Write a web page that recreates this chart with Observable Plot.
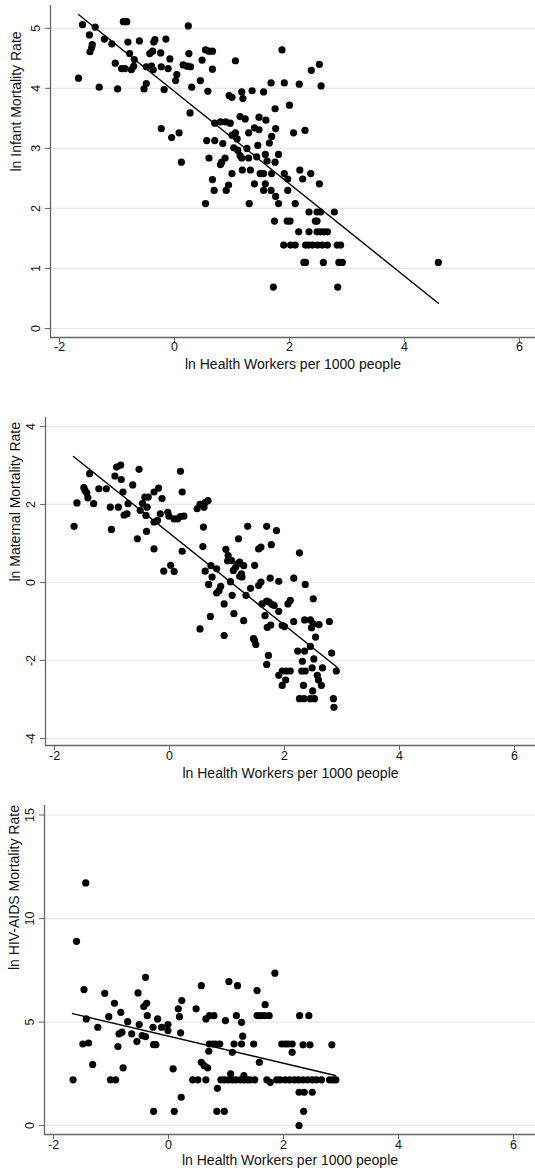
<!DOCTYPE html>
<html><head><meta charset="utf-8">
<script src="https://cdn.jsdelivr.net/npm/d3@7"></script>
<script src="https://cdn.jsdelivr.net/npm/@observablehq/plot@0.6"></script>
<style>
body{margin:0;background:#fff;}
#chart svg{display:block;}
</style></head><body><div id="chart"></div>
<script>
const xLabel = "ln Health Workers per 1000 people";
const xTicks = [-2, 0, 2, 4, 6];

// Panel 1: ln Infant Mortality Rate
const infantTicks = [0, 1, 2, 3, 4, 5];
const infantPoints = [
[-1.60,5.06],[-1.38,5.02],[-1.48,4.89],[-1.43,4.73],[-1.44,4.68],[-1.47,4.61],[-1.22,4.82],[-1.09,4.74],[-0.89,5.11],[-0.83,5.11],
[-0.81,4.77],[-0.61,4.79],[-0.36,4.77],[-0.34,4.81],[-0.15,4.82],[0.24,5.04],[-0.78,4.58],[-0.70,4.48],[-1.03,4.42],[-0.92,4.33],
[-0.86,4.33],[-0.75,4.31],[-0.71,4.37],[-0.43,4.58],[-0.38,4.62],[-0.24,4.59],[-0.08,4.49],[-0.49,4.36],[-0.40,4.37],[-0.37,4.31],
[-0.23,4.36],[-0.11,4.33],[0.04,4.23],[0.02,4.13],[0.15,4.39],[0.22,4.37],[0.28,4.36],[0.25,4.58],[-1.67,4.17],[-1.31,4.02],
[-0.99,3.99],[-0.53,3.99],[-0.49,4.08],[-0.18,3.98],[0.30,4.02],[0.27,3.59],[-0.23,3.33],[-0.05,3.18],[0.08,3.26],[0.12,2.77],
[0.54,4.64],[0.60,4.62],[0.66,4.62],[0.48,4.47],[0.66,4.32],[1.06,4.46],[1.87,4.64],[0.45,4.13],[0.58,3.95],[0.95,3.88],
[1.00,3.85],[1.17,3.94],[1.19,3.83],[1.35,3.96],[1.55,3.94],[1.68,4.09],[1.91,4.09],[2.17,4.07],[2.38,4.30],[2.52,4.40],
[2.55,4.04],[1.75,3.66],[2.00,3.72],[0.70,3.42],[0.80,3.44],[0.89,3.44],[0.97,3.42],[1.14,3.53],[1.23,3.49],[1.47,3.52],
[1.59,3.47],[1.00,3.22],[1.06,3.26],[1.09,3.16],[1.29,3.26],[1.39,3.34],[1.47,3.31],[1.69,3.20],[1.76,3.33],[1.65,3.09],
[2.07,3.26],[2.27,3.30],[0.56,3.13],[0.70,3.13],[0.84,3.08],[1.03,3.01],[1.10,2.97],[1.14,2.88],[1.17,2.84],[1.26,3.00],
[1.29,2.84],[1.45,3.05],[1.43,2.86],[1.58,2.90],[1.61,2.79],[1.75,2.77],[1.81,2.90],[0.60,2.84],[0.80,2.73],[0.82,2.77],
[0.88,2.84],[1.18,2.64],[1.32,2.64],[1.00,2.58],[1.49,2.58],[1.55,2.58],[1.69,2.58],[1.91,2.58],[1.97,2.49],[2.18,2.64],
[2.23,2.49],[2.37,2.58],[2.52,2.41],[0.66,2.48],[0.69,2.30],[0.90,2.30],[0.94,2.39],[1.39,2.41],[1.58,2.41],[1.55,2.30],
[1.68,2.30],[1.76,2.20],[1.97,2.30],
[0.54,2.08],[1.30,2.08],[1.81,2.08],[2.10,2.08],
[2.34,1.94],[2.48,1.94],[2.54,1.94],[2.78,1.94],
[1.74,1.79],[1.96,1.79],[2.01,1.79],[2.45,1.79],[2.48,1.79],
[2.16,1.61],[2.34,1.61],[2.48,1.61],[2.54,1.61],[2.60,1.61],[2.66,1.61],
[1.90,1.39],[2.02,1.39],[2.10,1.39],[2.28,1.39],[2.33,1.39],[2.40,1.39],[2.49,1.39],[2.57,1.39],[2.66,1.39],[2.83,1.39],[2.89,1.39],
[2.25,1.10],[2.28,1.10],[2.59,1.10],[2.86,1.10],[2.92,1.10],[4.59,1.10],
[1.72,0.69],[2.84,0.69]
];
const infantFit = [[-1.67,5.23],[4.59,0.42]];

// Panel 2: ln Maternal Mortality Rate
const maternalTicks = [-4, -2, 0, 2, 4];
const maternalPoints = [
[-1.66,1.44],[-1.61,2.04],[-1.39,2.79],[-1.49,2.43],[-1.47,2.36],[-1.44,2.30],[-1.42,2.17],[-1.32,2.02],[-1.23,2.40],[-1.10,2.40],
[-1.03,1.93],[-1.01,1.36],[-0.95,2.73],[-0.92,2.96],[-0.85,3.01],[-0.84,2.64],[-0.89,1.93],[-0.81,2.32],[-0.72,2.02],[-0.79,1.73],
[-0.74,1.76],[-0.64,2.50],[-0.53,2.90],[-0.56,1.12],[-0.51,1.85],[-0.47,2.03],[-0.43,2.19],[-0.37,2.19],[-0.39,1.93],[-0.41,1.72],
[-0.40,1.31],[-0.27,1.55],[-0.21,1.59],[-0.27,0.86],[-0.27,2.32],[-0.19,2.42],[-0.13,2.15],[-0.16,1.76],[-0.03,1.80],[-0.01,1.70],
[0.08,1.63],[0.14,1.63],[0.19,1.69],[0.25,1.70],[0.19,2.85],[0.22,2.32],[0.22,0.80],[-0.10,0.29],[0.02,0.44],[0.08,0.28],
[0.48,1.89],[0.53,2.00],[0.60,1.93],[0.62,2.05],[0.67,2.10],
[0.59,1.42],[0.58,0.92],[0.53,-1.19],[0.71,-0.87],[0.62,0.29],[0.72,0.43],[0.82,0.35],[0.74,0.14],[0.68,-0.05],[0.82,-0.27],
[0.86,-0.21],[0.89,-0.10],[0.95,-0.55],[0.95,-1.36],[0.98,0.85],[1.02,0.69],[1.04,0.58],[1.01,0.55],[1.08,0.56],[1.06,0.02],
[1.09,-0.33],[1.12,-0.80],[1.11,0.31],[1.15,0.39],[1.19,0.48],[1.22,0.52],[1.25,0.22],[1.26,0.14],[1.29,0.43],[1.22,0.16],
[1.20,1.12],[1.29,-0.98],[1.33,-0.33],[1.36,1.44],[1.41,-0.15],[1.48,0.44],[1.55,0.86],[1.59,0.91],[1.55,-0.08],[1.59,0.01],
[1.46,-1.44],[1.48,-1.49],[1.50,-1.59],[1.69,1.44],[1.77,0.97],[1.86,1.33],[1.75,0.11],[1.90,0.03],[1.61,-0.55],[1.69,-0.48],
[1.73,-0.50],[1.78,-0.56],[1.82,-0.59],[1.66,-0.85],[1.90,-0.74],[1.70,-1.15],[1.76,-1.09],[1.96,-1.10],[2.00,-1.13],[2.06,-0.55],
[2.10,-0.46],[1.72,-1.87],[1.69,-2.10],[2.16,0.11],[2.26,0.76],[2.36,-0.05],[2.50,-0.42],[2.16,-1.00],[2.35,-0.96],[2.45,-0.96],
[2.50,-1.06],[2.47,-1.16],[2.60,-1.08],[2.54,-1.40],[2.78,-1.00],[2.23,-1.76],[2.35,-1.76],[2.45,-1.64],[2.82,-1.81],[2.31,-2.02],
[2.51,-1.96],[2.48,-2.19],[2.66,-2.19],[2.90,-2.27],[1.90,-2.38],[1.96,-2.27],[2.03,-2.27],[2.10,-2.27],[2.02,-2.50],[1.96,-2.64],
[2.30,-2.27],[2.36,-2.27],[2.57,-2.38],[2.59,-2.50],[2.64,-2.64],[2.33,-2.64],[2.49,-2.78],[2.26,-2.98],[2.34,-2.98],[2.45,-2.98],
[2.52,-2.98],[2.85,-2.98],[2.86,-3.20]
];
const maternalFit = [[-1.67,3.23],[2.92,-2.18]];

// Panel 3: ln HIV-AIDS Mortality Rate
const hivTicks = [0, 5, 10, 15];
const hivPoints = [
[-1.44,11.72],[-1.60,8.90],[-1.47,6.57],[-1.66,2.21],[-1.43,5.15],[-1.49,3.94],[-1.39,3.99],[-1.32,2.95],[-1.23,4.75],[-1.11,6.39],
[-1.04,5.26],[-1.01,2.21],[-0.92,2.21],[-0.94,5.91],[-0.83,5.47],[-0.88,3.82],[-0.79,2.79],[-0.86,4.43],[-0.81,4.51],[-0.71,5.02],
[-0.64,4.43],[-0.55,4.06],[-0.53,6.41],[-0.51,4.88],[-0.40,7.16],[-0.43,5.75],[-0.38,5.91],[-0.37,5.31],[-0.46,4.35],[-0.40,4.30],
[-0.27,4.75],[-0.26,3.91],[-0.22,3.91],[-0.19,5.15],[-0.12,4.75],[-0.01,4.88],[-0.01,4.59],[0.08,2.74],[-0.26,0.69],[0.10,0.69],
[0.23,6.04],[0.17,5.64],[0.19,5.26],[0.21,4.48],[0.22,1.37],
[0.57,6.76],[0.48,5.64],[0.65,5.15],[0.71,5.31],[0.79,5.31],[0.99,5.07],[1.05,6.96],[1.20,6.76],[1.18,5.31],[1.27,4.99],
[1.29,4.32],[1.54,6.52],[1.68,5.84],[1.54,5.31],[1.60,5.31],[1.67,5.31],[1.75,5.31],[1.85,7.36],[2.28,5.31],[2.44,5.31],
[0.71,3.94],[0.77,3.94],[0.82,3.94],[0.89,3.94],[0.70,3.59],[1.14,3.94],[1.27,3.94],[1.11,3.54],[1.48,3.94],[1.97,3.94],
[2.03,3.94],[2.08,3.94],[2.15,3.94],[2.15,3.54],[2.34,3.90],[2.46,3.90],[2.84,3.90],[1.58,3.06],[0.57,3.06],[0.62,2.90],
[0.68,2.79],[1.08,2.50],[1.31,2.41],[0.42,2.21],[0.51,2.21],[0.65,2.21],[0.91,2.21],[0.97,2.21],[1.04,2.21],[1.11,2.21],
[1.17,2.21],[1.25,2.21],[1.31,2.21],[1.37,2.21],[1.42,2.21],[1.50,2.21],[1.71,2.21],[1.77,2.09],[1.88,2.21],[1.94,2.21],
[2.03,2.21],[2.11,2.21],[2.19,2.21],[2.26,2.21],[2.34,2.21],[2.42,2.21],[2.50,2.21],[2.57,2.21],[2.66,2.21],[2.80,2.21],
[2.86,2.21],[2.91,2.21],[0.85,1.80],[2.27,1.61],[2.36,1.61],[2.50,1.61],[0.84,0.69],[0.97,0.69],[2.35,0.69],[2.27,0.00]
];
const hivFit = [[-1.67,5.41],[2.90,2.42]];

const FONT = "'Liberation Sans', Arial, Helvetica, sans-serif";

function panel(o) {
  return Plot.plot({
    width: 535,
    height: o.height,
    marginLeft: o.marginLeft,
    marginRight: 0,
    marginTop: o.marginTop,
    marginBottom: o.marginBottom,
    style: {fontFamily: FONT, fontSize: "12px", background: "#fff", color: "#000", overflow: "visible"},
    x: {domain: o.xDomain},
    y: {domain: o.yDomain},
    marks: [
      Plot.gridY(o.yTicks, {stroke: "#e8e8e8", strokeOpacity: 1, strokeWidth: 1.2}),
      Plot.ruleX([o.xDomain[0]], {stroke: "#666", strokeWidth: 1.3}),
      Plot.ruleY([o.yDomain[0]], {stroke: "#666", strokeWidth: 1.3}),
      Plot.axisX(xTicks, {tickSize: 5, tickPadding: o.xPad, stroke: "#666", fill: "#111", tickFormat: d => String(d), label: null, fontSize: 12.5}),
      Plot.axisY(o.yTicks, {tickSize: 5, tickPadding: 6, tickRotate: -90, stroke: "#666", fill: "#111", tickFormat: d => String(d), label: null, fontSize: 12.5}),
      Plot.dot(o.points, {x: d => d[0], y: d => d[1], r: 3.6, fill: "#000", stroke: "none"}),
      Plot.line(o.fit, {x: d => d[0], y: d => d[1], stroke: "#000", strokeWidth: 1.4}),
      Plot.text([xLabel], {frameAnchor: "bottom", dy: o.xLabelDy, fontSize: 14, fill: "#111"}),
      Plot.text([o.yLabel], {frameAnchor: "left", rotate: -90, dx: o.yLabelDx, fontSize: 14, fill: "#111"})
    ]
  });
}

const chart = document.getElementById("chart");
chart.append(panel({
  points: infantPoints, fit: infantFit, yTicks: infantTicks, yLabel: "ln Infant Mortality Rate",
  height: 385, marginLeft: 50, marginTop: 5, marginBottom: 48,
  xDomain: [-2.157, 6.28], yDomain: [-0.15, 5.38], xLabelDy: 31, yLabelDx: -34, xPad: 0
}));
chart.append(panel({
  points: maternalPoints, fit: maternalFit, yTicks: maternalTicks, yLabel: "ln Maternal Mortality Rate",
  height: 405, marginLeft: 45, marginTop: 32, marginBottom: 45,
  xDomain: [-2.157, 6.365], yDomain: [-4.18, 4.23], xLabelDy: 32, yLabelDx: -30, xPad: 1
}));
chart.append(panel({
  points: hivPoints, fit: hivFit, yTicks: hivTicks, yLabel: "ln HIV-AIDS Mortality Rate",
  height: 383, marginLeft: 44, marginTop: 15, marginBottom: 39,
  xDomain: [-2.157, 6.382], yDomain: [-0.43, 15.46], xLabelDy: 30, yLabelDx: -30, xPad: 1
}));
</script></body></html>
